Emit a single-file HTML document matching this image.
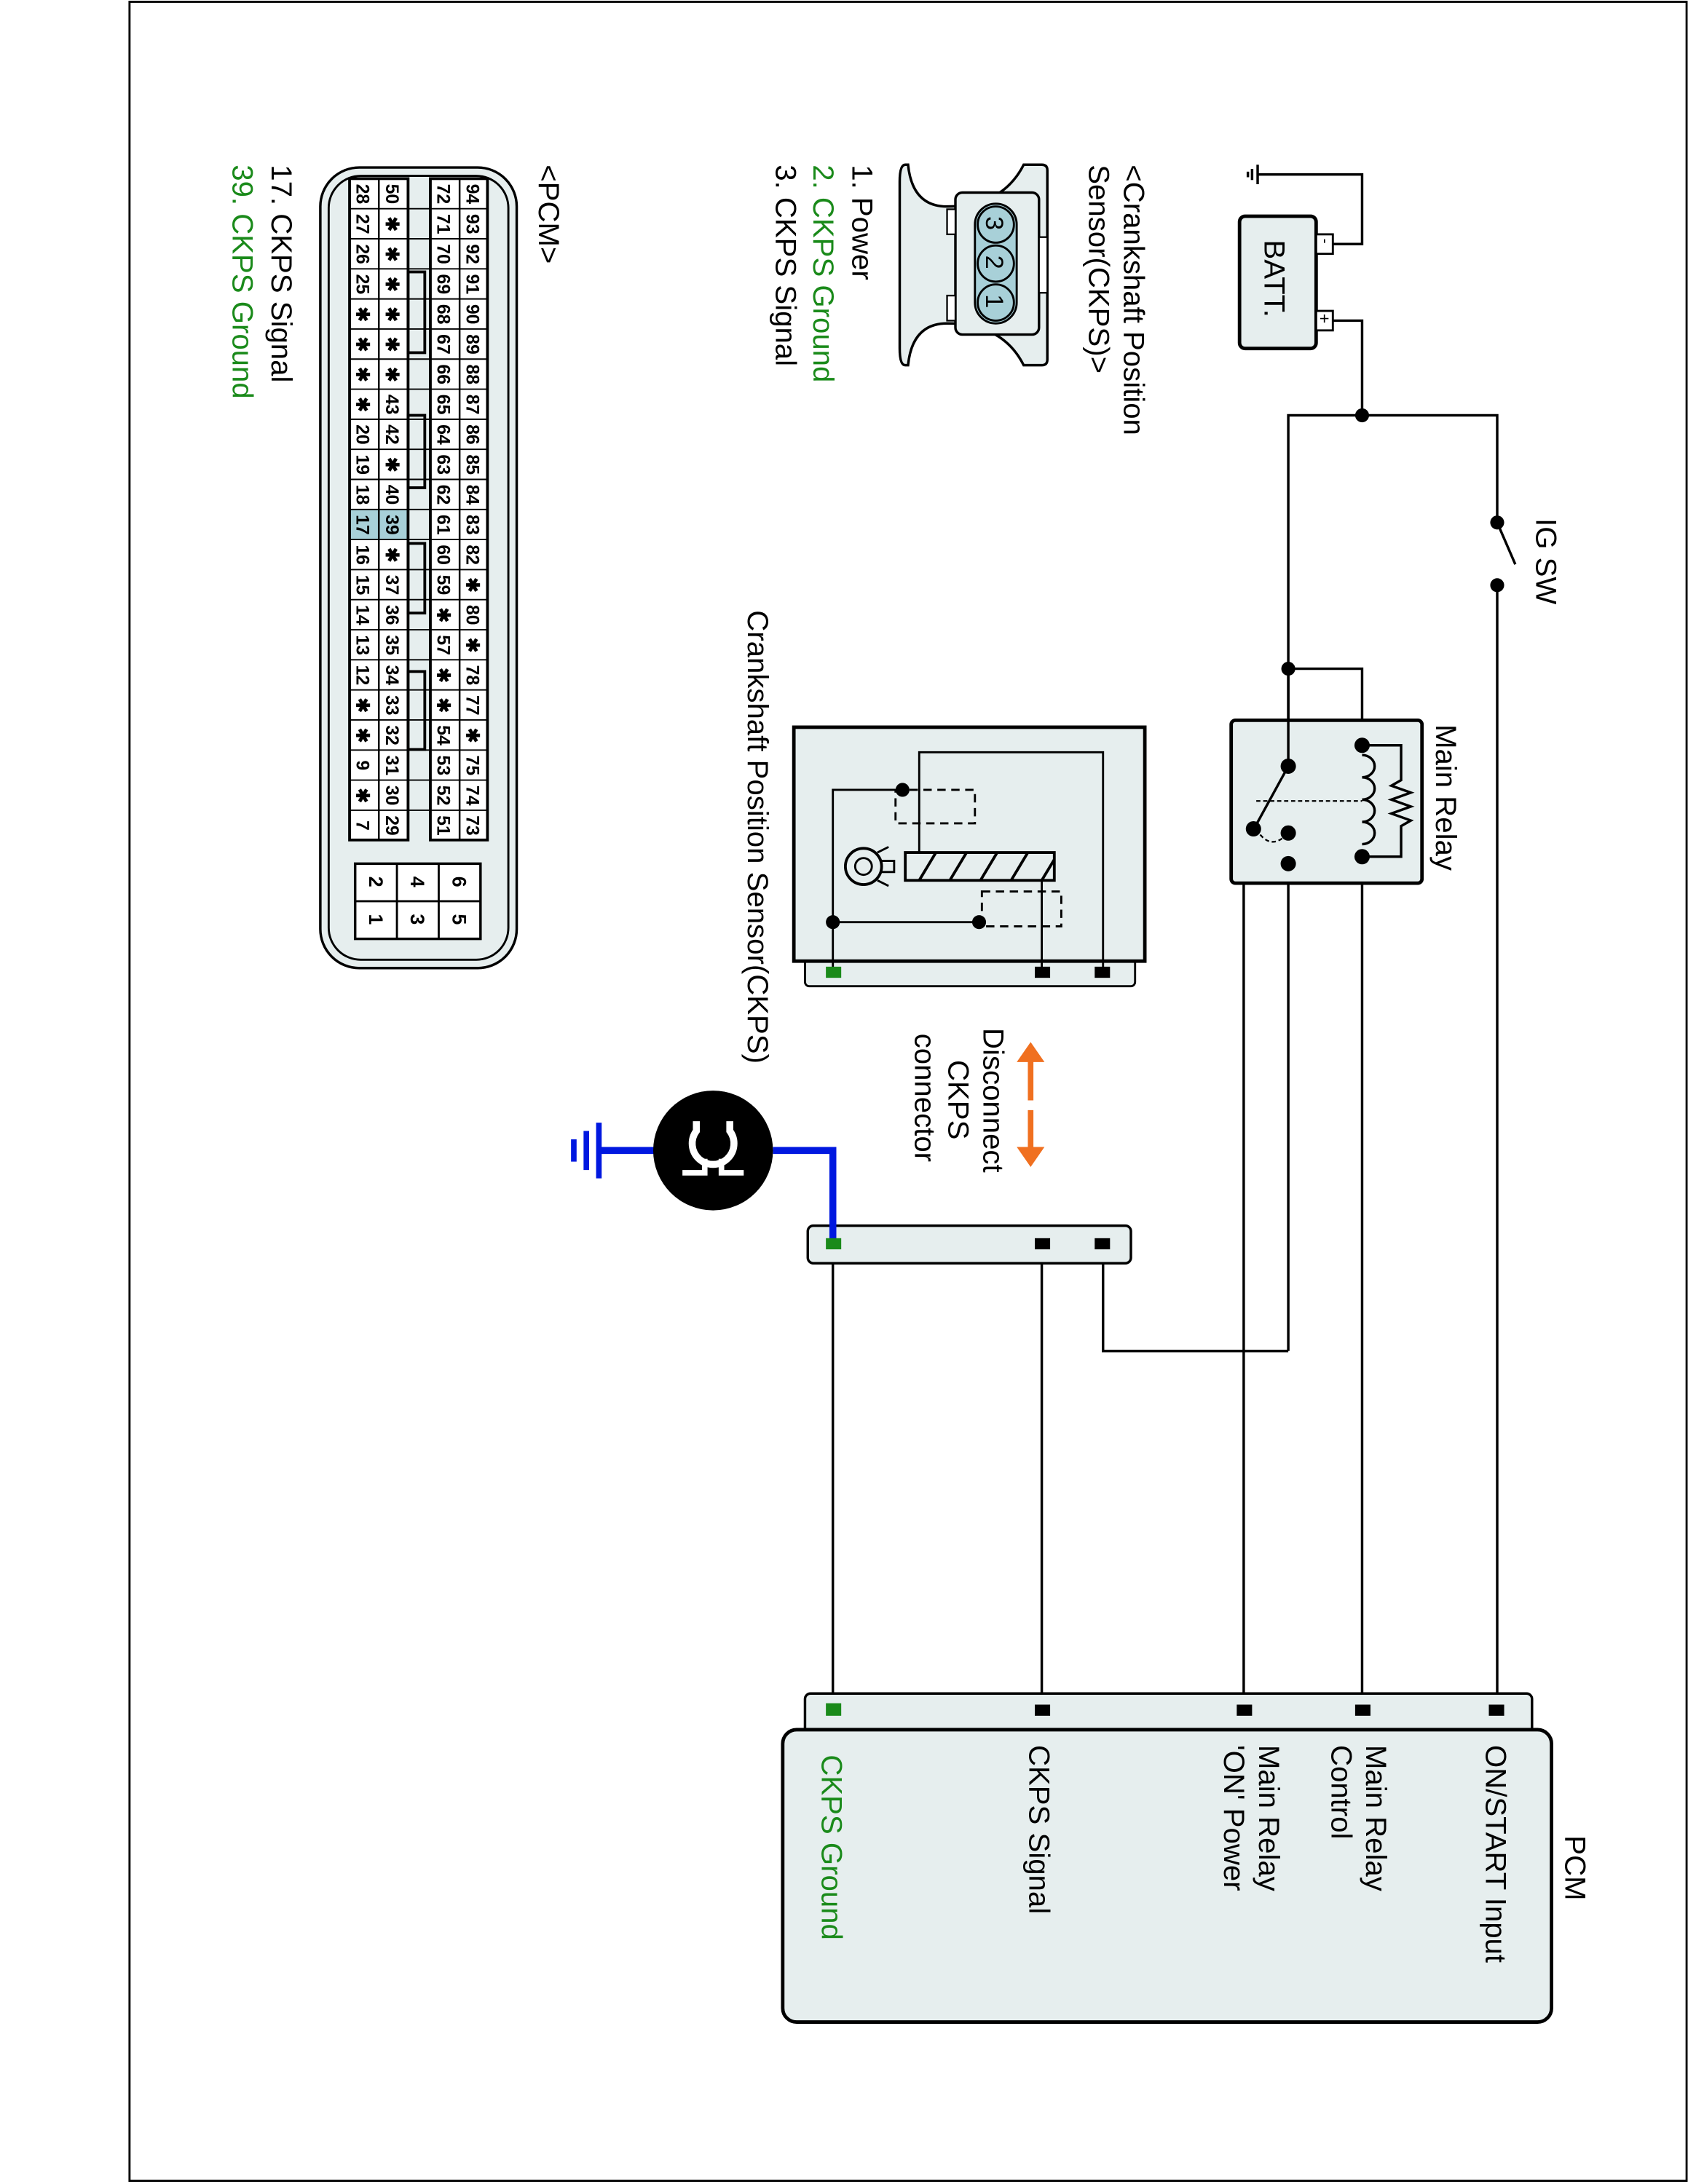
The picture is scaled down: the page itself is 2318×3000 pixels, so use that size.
<!DOCTYPE html>
<html><head><meta charset="utf-8"><style>
html,body{margin:0;padding:0;background:#fff}
svg{display:block}
text{font-family:"Liberation Sans",Arial,sans-serif}
</style></head><body>
<svg width="2318" height="3000" viewBox="0 0 1212 1568" xmlns="http://www.w3.org/2000/svg">
<rect x="93" y="1" width="1118" height="1565" fill="#fff" stroke="#000" stroke-width="1.5"/>

<!-- Battery -->
<rect x="890" y="155" width="55" height="95" rx="4" fill="#e6eeee" stroke="#000" stroke-width="2.5"/>
<text transform="translate(908,172) rotate(90)" font-size="21">BATT.</text>
<rect x="945" y="168" width="12" height="14" fill="#fff" stroke="#000" stroke-width="1.5"/>
<text transform="translate(948,171) rotate(90)" font-size="11">-</text>
<rect x="945" y="223" width="12" height="14" fill="#fff" stroke="#000" stroke-width="1.5"/>
<text transform="translate(947,225) rotate(90)" font-size="12">+</text>
<g stroke="#000" stroke-width="1.8" fill="none">
<polyline points="957,175 978,175 978,125 903,125"/>
<line x1="903" y1="118" x2="903" y2="132"/><line x1="899" y1="121" x2="899" y2="129"/><line x1="896" y1="123" x2="896" y2="127"/>
<polyline points="957,230 978,230 978,298"/>
<polyline points="925,970 925,298 1075,298 1075,375"/>
<line x1="1075" y1="375" x2="1088" y2="405"/>
<line x1="1075" y1="420" x2="1075" y2="1228"/>
<polyline points="925,480 978,480 978,535"/>
<line x1="978" y1="615" x2="978" y2="1228"/>
<polyline points="925,620 893,620 893,1228"/>
<polyline points="925,970 792,970 792,893"/>
<line x1="748" y1="893" x2="748" y2="1228"/>
<line x1="598" y1="893" x2="598" y2="1228"/>
</g>
<g fill="#000">
<circle cx="978" cy="298" r="5"/><circle cx="1075" cy="375" r="5"/><circle cx="1075" cy="420" r="5"/><circle cx="925" cy="480" r="5"/>
</g>
<text transform="translate(1103,372) rotate(90)" font-size="21">IG SW</text>

<!-- Main relay -->
<rect x="884" y="517" width="137" height="117" rx="3" fill="#e6eeee" stroke="#000" stroke-width="2.5"/>
<text transform="translate(1031,520) rotate(90)" font-size="21">Main Relay</text>
<g stroke="#000" stroke-width="1.8" fill="none">
<line x1="925" y1="480" x2="925" y2="550"/>
<path d="M978,542 a9,8 0 0 1 0,16 a9,8 0 0 1 0,16 a9,8 0 0 1 0,16 a9,8 0 0 1 0,16"/>
<polyline points="978,535 1006,535 1006,560 999,564 1013,569 999,574 1013,579 999,584 1013,589 1006,593 1006,615 978,615"/>
<line x1="925" y1="550" x2="902" y2="592"/>
<line x1="902" y1="575" x2="978" y2="575" stroke-dasharray="3,2" stroke-width="1.2"/>
<path d="M902,595 Q912,612 925,598" stroke-dasharray="3,2" stroke-width="1.2"/>
</g>
<g fill="#000">
<circle cx="978" cy="535" r="5.5"/><circle cx="978" cy="615" r="5.5"/><circle cx="925" cy="550" r="5.5"/><circle cx="900" cy="595" r="5.5"/><circle cx="925" cy="598" r="5.5"/><circle cx="925" cy="620" r="5.5"/>
</g>

<!-- Legend CKPS -->
<text transform="translate(807,118) rotate(90)" font-size="21">&lt;Crankshaft Position</text>
<text transform="translate(782,118) rotate(90)" font-size="21">Sensor(CKPS)&gt;</text>
<path d="M752,122 L752,258 Q752,262 748,262 L735,262 Q720,232 680,232 Q655,232 652,262 L650,262 Q646,262 646,250 L646,130 Q646,118 650,118 L652,118 Q655,148 680,148 Q720,148 735,118 L748,118 Q752,118 752,122 Z" fill="#e6eeee" stroke="#000" stroke-width="1.8"/>
<rect x="686" y="138" width="60" height="102" rx="5" fill="#e6eeee" stroke="#000" stroke-width="1.8"/>
<rect x="680" y="150" width="6" height="18" fill="#fff" stroke="#000" stroke-width="1.2"/>
<rect x="680" y="212" width="6" height="18" fill="#fff" stroke="#000" stroke-width="1.2"/>
<rect x="746" y="170" width="6" height="40" fill="#fff" stroke="#000" stroke-width="1.2"/>
<rect x="700" y="146" width="30" height="86" rx="15" fill="#a8d0d8" stroke="#000" stroke-width="1.5"/>
<g fill="#a8d0d8" stroke="#000" stroke-width="1.5"><circle cx="715" cy="161" r="13"/><circle cx="715" cy="189" r="13"/><circle cx="715" cy="217" r="13"/></g>
<text transform="translate(708,155) rotate(90)" font-size="18">3</text>
<text transform="translate(708,183) rotate(90)" font-size="18">2</text>
<text transform="translate(708,211) rotate(90)" font-size="18">1</text>
<text transform="translate(612,118) rotate(90)" font-size="21">1. Power</text>
<text transform="translate(584,118) rotate(90)" font-size="21" fill="#1a8a1a">2. CKPS Ground</text>
<text transform="translate(557,118) rotate(90)" font-size="21">3. CKPS Signal</text>

<!-- Sensor internal -->
<rect x="578" y="688" width="237" height="20" rx="3" fill="#e6eeee" stroke="#000" stroke-width="1.5"/>
<rect x="570" y="522" width="252" height="168" fill="#e6eeee" stroke="#000" stroke-width="2.5"/>
<g stroke="#000" stroke-width="1.5" fill="none">
<polyline points="792,697 792,540 660,540 660,612"/>
<line x1="748" y1="697" x2="748" y2="632"/>
<polyline points="648,567 598,567 598,697"/>
<line x1="598" y1="662" x2="703" y2="662"/>
<rect x="643" y="567" width="57" height="24" stroke-dasharray="6,4"/>
<rect x="705" y="640" width="57" height="25" stroke-dasharray="6,4"/>
<rect x="650" y="612" width="107" height="20" stroke-width="2"/>
<path d="M660,632 L672,612 M682,632 L694,612 M704,632 L716,612 M726,632 L738,612 M748,632 L757,617" stroke-width="2"/>
<circle cx="620" cy="622" r="13" stroke-width="2"/><circle cx="620" cy="622" r="6" stroke-width="1.5"/>
<path d="M630,612 L638,608 M630,632 L638,636 M633,618 L642,618 L642,626 L633,626"/>
</g>
<g fill="#000"><circle cx="648" cy="567" r="5"/><circle cx="703" cy="662" r="5"/><circle cx="598" cy="662" r="5"/></g>
<rect x="593" y="694" width="11" height="8" fill="#1a8a1a"/>
<rect x="743" y="694" width="11" height="8" fill="#000"/>
<rect x="786" y="694" width="11" height="8" fill="#000"/>
<text transform="translate(537,438) rotate(90)" font-size="21">Crankshaft Position Sensor(CKPS)</text>

<!-- Disconnect -->
<text transform="translate(706,738) rotate(90)" font-size="21">Disconnect</text>
<text transform="translate(681,761) rotate(90)" font-size="21">CKPS</text>
<text transform="translate(657,742) rotate(90)" font-size="21">connector</text>
<g stroke="#f07020" stroke-width="4" fill="#f07020">
<line x1="740" y1="758" x2="740" y2="790"/><polygon points="731,762 749,762 740,749" stroke-width="1"/>
<line x1="740" y1="797" x2="740" y2="828"/><polygon points="731,824 749,824 740,837" stroke-width="1"/>
</g>

<!-- CKPS connector -->
<rect x="580" y="880" width="232" height="27" rx="4" fill="#e6eeee" stroke="#000" stroke-width="1.8"/>
<polyline points="598,890 598,826 555,826" fill="none" stroke="#0018e0" stroke-width="5"/>
<line x1="470" y1="826" x2="430" y2="826" stroke="#0018e0" stroke-width="5"/>
<g stroke="#0018e0" stroke-width="4"><line x1="430" y1="806" x2="430" y2="846"/><line x1="421" y1="812" x2="421" y2="840"/><line x1="412" y1="818" x2="412" y2="834"/></g>
<circle cx="512" cy="826" r="43" fill="#000"/>
<path d="M500,805 L500,812 A15,15 0 1 0 524,812 L524,805" fill="none" stroke="#fff" stroke-width="5"/>
<path d="M490,842 L506,842 L506,832 M534,842 L518,842 L518,832" fill="none" stroke="#fff" stroke-width="4"/>
<rect x="593" y="889" width="11" height="8" fill="#1a8a1a"/>
<rect x="743" y="889" width="11" height="8" fill="#000"/>
<rect x="786" y="889" width="11" height="8" fill="#000"/>

<!-- PCM -->
<rect x="578" y="1216" width="522" height="30" rx="4" fill="#e6eeee" stroke="#000" stroke-width="1.8"/>
<rect x="562" y="1242" width="552" height="210" rx="10" fill="#e6eeee" stroke="#000" stroke-width="2.5"/>
<rect x="593" y="1223" width="11" height="9" fill="#1a8a1a"/>
<rect x="743" y="1224" width="11" height="8" fill="#000"/>
<rect x="888" y="1224" width="11" height="8" fill="#000"/>
<rect x="973" y="1224" width="11" height="8" fill="#000"/>
<rect x="1069" y="1224" width="11" height="8" fill="#000"/>
<text transform="translate(1124,1318) rotate(90)" font-size="21">PCM</text>
<text transform="translate(1067,1253) rotate(90)" font-size="21">ON/START Input</text>
<text transform="translate(981,1253) rotate(90)" font-size="21">Main Relay</text>
<text transform="translate(956,1253) rotate(90)" font-size="21">Control</text>
<text transform="translate(904,1253) rotate(90)" font-size="21">Main Relay</text>
<text transform="translate(879,1253) rotate(90)" font-size="21">'ON' Power</text>
<text transform="translate(739,1253) rotate(90)" font-size="21">CKPS Signal</text>
<text transform="translate(590,1260) rotate(90)" font-size="21" fill="#1a8a1a">CKPS Ground</text>

<!-- PCM legend -->
<text transform="translate(387,118) rotate(90)" font-size="21">&lt;PCM&gt;</text>
<rect x="230" y="120" width="141" height="575" rx="28" fill="#e6eeee" stroke="#000" stroke-width="1.8"/>
<rect x="236" y="126" width="129" height="563" rx="23" fill="none" stroke="#000" stroke-width="1.5"/>
<g font-size="13" font-weight="bold" stroke="#000" stroke-width="1.3">
<rect x="309" y="128" width="41" height="475" fill="#fff"/>
<rect x="251" y="128" width="42" height="475" fill="#fff"/>
<rect x="293" y="195" width="12" height="58" fill="#e6eeee" stroke-width="2"/>
<rect x="293" y="298" width="12" height="52" fill="#e6eeee" stroke-width="2"/>
<rect x="293" y="390" width="12" height="50" fill="#e6eeee" stroke-width="2"/>
<rect x="293" y="482" width="12" height="56" fill="#e6eeee" stroke-width="2"/>
<rect x="272" y="366" width="21" height="21.6" fill="#a8d0d8" stroke="none"/>
<rect x="251" y="366" width="21" height="21.6" fill="#a8d0d8" stroke="none"/>
<line x1="330" y1="128" x2="330" y2="603"/><line x1="272" y1="128" x2="272" y2="603"/>
<rect x="309" y="128" width="41" height="475" fill="none" stroke-width="2"/>
<rect x="251" y="128" width="42" height="475" fill="none" stroke-width="2"/>
</g>
<g stroke="#000" stroke-width="1">
<line x1="251" y1="149.6" x2="350" y2="149.6"/><line x1="251" y1="171.2" x2="350" y2="171.2"/><line x1="251" y1="192.8" x2="350" y2="192.8"/><line x1="251" y1="214.4" x2="350" y2="214.4"/><line x1="251" y1="236" x2="350" y2="236"/><line x1="251" y1="257.6" x2="350" y2="257.6"/><line x1="251" y1="279.2" x2="350" y2="279.2"/><line x1="251" y1="300.8" x2="350" y2="300.8"/><line x1="251" y1="322.4" x2="350" y2="322.4"/><line x1="251" y1="344" x2="350" y2="344"/><line x1="251" y1="365.6" x2="350" y2="365.6"/><line x1="251" y1="387.2" x2="350" y2="387.2"/><line x1="251" y1="408.8" x2="350" y2="408.8"/><line x1="251" y1="430.4" x2="350" y2="430.4"/><line x1="251" y1="452" x2="350" y2="452"/><line x1="251" y1="473.6" x2="350" y2="473.6"/><line x1="251" y1="495.2" x2="350" y2="495.2"/><line x1="251" y1="516.8" x2="350" y2="516.8"/><line x1="251" y1="538.4" x2="350" y2="538.4"/><line x1="251" y1="560" x2="350" y2="560"/><line x1="251" y1="581.6" x2="350" y2="581.6"/>
</g>
<g font-size="13" font-weight="bold" text-anchor="middle">
<g transform="translate(335,0)">
<text transform="translate(0,139) rotate(90)">94</text><text transform="translate(0,160.6) rotate(90)">93</text><text transform="translate(0,182.2) rotate(90)">92</text><text transform="translate(0,203.8) rotate(90)">91</text><text transform="translate(0,225.4) rotate(90)">90</text><text transform="translate(0,247) rotate(90)">89</text><text transform="translate(0,268.6) rotate(90)">88</text><text transform="translate(0,290.2) rotate(90)">87</text><text transform="translate(0,311.8) rotate(90)">86</text><text transform="translate(0,333.4) rotate(90)">85</text><text transform="translate(0,355) rotate(90)">84</text><text transform="translate(0,376.6) rotate(90)">83</text><text transform="translate(0,398.2) rotate(90)">82</text><text transform="translate(0,419.8) rotate(90)">✱</text><text transform="translate(0,441.4) rotate(90)">80</text><text transform="translate(0,463) rotate(90)">✱</text><text transform="translate(0,484.6) rotate(90)">78</text><text transform="translate(0,506.2) rotate(90)">77</text><text transform="translate(0,527.8) rotate(90)">✱</text><text transform="translate(0,549.4) rotate(90)">75</text><text transform="translate(0,571) rotate(90)">74</text><text transform="translate(0,592.6) rotate(90)">73</text>
</g>
<g transform="translate(314,0)">
<text transform="translate(0,139) rotate(90)">72</text><text transform="translate(0,160.6) rotate(90)">71</text><text transform="translate(0,182.2) rotate(90)">70</text><text transform="translate(0,203.8) rotate(90)">69</text><text transform="translate(0,225.4) rotate(90)">68</text><text transform="translate(0,247) rotate(90)">67</text><text transform="translate(0,268.6) rotate(90)">66</text><text transform="translate(0,290.2) rotate(90)">65</text><text transform="translate(0,311.8) rotate(90)">64</text><text transform="translate(0,333.4) rotate(90)">63</text><text transform="translate(0,355) rotate(90)">62</text><text transform="translate(0,376.6) rotate(90)">61</text><text transform="translate(0,398.2) rotate(90)">60</text><text transform="translate(0,419.8) rotate(90)">59</text><text transform="translate(0,441.4) rotate(90)">✱</text><text transform="translate(0,463) rotate(90)">57</text><text transform="translate(0,484.6) rotate(90)">✱</text><text transform="translate(0,506.2) rotate(90)">✱</text><text transform="translate(0,527.8) rotate(90)">54</text><text transform="translate(0,549.4) rotate(90)">53</text><text transform="translate(0,571) rotate(90)">52</text><text transform="translate(0,592.6) rotate(90)">51</text>
</g>
<g transform="translate(277,0)">
<text transform="translate(0,139) rotate(90)">50</text><text transform="translate(0,160.6) rotate(90)">✱</text><text transform="translate(0,182.2) rotate(90)">✱</text><text transform="translate(0,203.8) rotate(90)">✱</text><text transform="translate(0,225.4) rotate(90)">✱</text><text transform="translate(0,247) rotate(90)">✱</text><text transform="translate(0,268.6) rotate(90)">✱</text><text transform="translate(0,290.2) rotate(90)">43</text><text transform="translate(0,311.8) rotate(90)">42</text><text transform="translate(0,333.4) rotate(90)">✱</text><text transform="translate(0,355) rotate(90)">40</text><text transform="translate(0,376.6) rotate(90)">39</text><text transform="translate(0,398.2) rotate(90)">✱</text><text transform="translate(0,419.8) rotate(90)">37</text><text transform="translate(0,441.4) rotate(90)">36</text><text transform="translate(0,463) rotate(90)">35</text><text transform="translate(0,484.6) rotate(90)">34</text><text transform="translate(0,506.2) rotate(90)">33</text><text transform="translate(0,527.8) rotate(90)">32</text><text transform="translate(0,549.4) rotate(90)">31</text><text transform="translate(0,571) rotate(90)">30</text><text transform="translate(0,592.6) rotate(90)">29</text>
</g>
<g transform="translate(256,0)">
<text transform="translate(0,139) rotate(90)">28</text><text transform="translate(0,160.6) rotate(90)">27</text><text transform="translate(0,182.2) rotate(90)">26</text><text transform="translate(0,203.8) rotate(90)">25</text><text transform="translate(0,225.4) rotate(90)">✱</text><text transform="translate(0,247) rotate(90)">✱</text><text transform="translate(0,268.6) rotate(90)">✱</text><text transform="translate(0,290.2) rotate(90)">✱</text><text transform="translate(0,311.8) rotate(90)">20</text><text transform="translate(0,333.4) rotate(90)">19</text><text transform="translate(0,355) rotate(90)">18</text><text transform="translate(0,376.6) rotate(90)">17</text><text transform="translate(0,398.2) rotate(90)">16</text><text transform="translate(0,419.8) rotate(90)">15</text><text transform="translate(0,441.4) rotate(90)">14</text><text transform="translate(0,463) rotate(90)">13</text><text transform="translate(0,484.6) rotate(90)">12</text><text transform="translate(0,506.2) rotate(90)">✱</text><text transform="translate(0,527.8) rotate(90)">✱</text><text transform="translate(0,549.4) rotate(90)">9</text><text transform="translate(0,571) rotate(90)">✱</text><text transform="translate(0,592.6) rotate(90)">7</text>
</g>
</g>
<rect x="255" y="620" width="90" height="54" fill="#fff" stroke="#000" stroke-width="1.8"/>
<g stroke="#000" stroke-width="1.5"><line x1="285" y1="620" x2="285" y2="674"/><line x1="315" y1="620" x2="315" y2="674"/><line x1="255" y1="647" x2="345" y2="647"/></g>
<g font-size="14" font-weight="bold" text-anchor="middle">
<text transform="translate(265,633) rotate(90)">2</text><text transform="translate(265,660) rotate(90)">1</text>
<text transform="translate(295,633) rotate(90)">4</text><text transform="translate(295,660) rotate(90)">3</text>
<text transform="translate(325,633) rotate(90)">6</text><text transform="translate(325,660) rotate(90)">5</text>
</g>
<text transform="translate(195,118) rotate(90)" font-size="21">17. CKPS Signal</text>
<text transform="translate(167,118) rotate(90)" font-size="21" fill="#1a8a1a">39. CKPS Ground</text>
</svg>
</body></html>
